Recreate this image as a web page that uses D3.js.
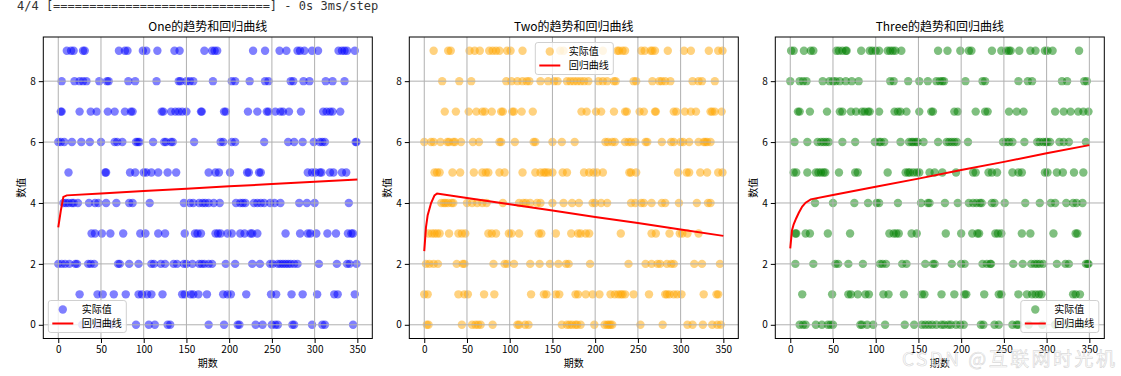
<!DOCTYPE html>
<html lang="zh">
<head>
<meta charset="utf-8">
<title>趋势和回归曲线</title>
<style>
  body { margin: 0; background: #fff; }
  svg text { font-family: "Noto Sans CJK SC", "DejaVu Sans", sans-serif; }
  .grid line { stroke: #b0b0b0; stroke-width: 1; }
  .tick text { font-size: 10px; fill: #000; }
</style>
</head>
<body>
<div id="chart"></div>
<script src="https://cdn.jsdelivr.net/npm/d3@7/dist/d3.min.js"></script>
<script>
// periods for each value 0..9 (index = value)
var oneRows = [
  [28,45,62,91,106,113,128,131,176,194,210,212,231,239,250,254,257,274,276,297,309,312,345],
  [25,46,52,65,79,94,98,104,109,122,145,148,155,158,164,174,193,198,202,220,249,255,273,286,303,323,327,347],
  [0,4,8,13,20,22,35,38,42,70,72,83,94,109,112,120,125,135,139,147,150,157,165,168,171,176,180,196,207,227,236,248,251,257,260,263,266,269,272,276,280,305,326,338,341,349],
  [39,43,51,61,76,96,102,117,125,148,160,163,167,184,187,190,198,203,213,218,225,227,233,266,283,292,295,302,315,325,339,343,345],
  [6,9,12,16,18,23,36,43,47,56,68,83,87,107,147,154,158,165,169,172,176,182,189,208,213,216,219,229,233,237,241,248,253,260,282,291,300,340],
  [12,55,56,84,90,100,103,109,117,128,138,176,184,188,201,221,223,235,237,292,297,301,306,308,318,322,332,337],
  [0,3,7,16,27,37,50,66,69,75,91,93,95,111,124,126,132,134,159,190,193,203,207,241,269,276,286,299,306,309,312,348,349],
  [3,4,25,38,45,58,66,78,85,87,121,123,132,137,141,145,150,167,168,194,196,222,233,244,246,254,260,263,270,284,310,314,318,321,330],
  [4,19,25,29,33,48,57,59,82,90,115,141,143,150,154,158,181,203,207,224,242,246,272,275,287,294,313,321,335],
  [10,15,18,29,31,71,78,81,99,103,116,136,142,171,180,183,186,228,242,259,267,280,283,288,297,304,328,332,335,338,347]
];
var twoRows = [
  [3,5,44,56,60,63,66,80,109,111,118,122,161,167,170,173,177,179,183,199,211,214,216,218,220,253,279,308,314,326,337,343,347],
  [0,4,40,47,51,70,82,125,140,143,154,158,177,180,189,197,205,218,223,227,230,232,235,245,263,282,284,287,292,296,301,327,342,344],
  [2,6,11,16,38,45,47,81,94,97,105,124,135,147,157,166,169,194,239,259,266,273,276,284,289,292,316,325,346],
  [5,9,12,15,18,29,40,44,48,75,79,84,99,102,111,134,137,154,172,180,183,189,193,230,266,271,287,299,302,308,321],
  [20,23,25,28,32,34,50,56,62,68,73,92,111,116,119,124,132,136,150,163,173,181,197,200,207,214,242,247,254,257,266,278,282,298,319,332,335],
  [12,15,18,33,42,58,68,72,75,88,94,115,130,136,140,142,145,150,162,167,187,193,198,202,209,240,242,248,297,307,310,323,331,344,349],
  [0,8,11,19,27,29,34,36,43,57,64,88,90,106,128,130,150,161,176,212,215,220,223,235,239,242,247,259,261,278,289,292,300,303,310,321,327,329,331,335],
  [24,37,52,61,68,71,79,90,92,103,105,114,127,184,190,201,207,222,235,237,252,257,270,271,292,295,305,312,318,335,337,340,348],
  [21,41,55,96,102,109,115,120,123,136,145,152,156,167,171,175,179,183,187,192,204,209,214,222,224,245,248,267,275,278,282,288,314,321,325,340],
  [11,28,31,53,59,65,76,80,84,88,97,101,115,159,163,209,226,228,232,235,254,258,265,267,270,285,304,312,333,344,349]
];
var threeRows = [
  [11,15,18,30,37,44,47,50,82,84,90,97,111,134,145,154,158,162,166,171,177,180,185,188,194,199,203,223,226,239,244,260,265,267,279,295,310,325,340],
  [14,49,68,71,79,88,92,109,115,133,154,157,177,192,204,206,227,244,247,267,277,283,287,291,294,331,334,339],
  [6,27,53,56,68,85,105,108,112,131,136,158,167,169,189,200,204,225,230,234,235,261,272,282,286,289,292,296,312,322,326,346,348,349],
  [6,7,18,23,44,70,116,121,124,127,142,148,182,200,213,219,221,240,243,247,271,281,308,334,336],
  [29,50,75,91,101,104,126,153,161,163,181,196,209,214,218,222,224,236,239,251,275,292,305,310,323,331,335,342],
  [4,7,20,30,33,36,39,41,57,76,79,114,135,138,140,144,148,151,163,169,178,194,214,217,232,236,242,260,267,271,298,301,312,319,332,343],
  [5,20,32,36,39,42,45,61,76,99,104,106,110,129,139,142,144,147,149,156,173,183,186,189,192,195,208,249,253,256,260,274,289,292,296,299,301,304,315,320,326,346],
  [9,11,23,43,58,61,71,77,84,87,91,93,104,122,126,129,136,151,165,167,192,196,217,228,231,256,265,273,310,320,328,337,343,349],
  [0,11,15,19,38,46,50,53,58,65,72,80,117,121,138,151,161,171,175,178,180,205,225,228,267,278,283,318,324,344,347],
  [1,4,16,24,27,54,57,61,65,66,83,93,96,100,104,114,117,120,123,130,173,184,199,209,212,236,247,253,256,258,268,281,287,298,301,307,338]
];

// regression curves
var oneRegX = [0,3,6,10,50,100,150,200,250,300,350];
var oneRegY = [3.2,3.75,4.2,4.25,4.31,4.39,4.47,4.55,4.62,4.7,4.77];
var twoRegX = [0,2,4,8,12,15,50,100,150,200,250,300,350];
var twoRegY = [2.42,3.2,3.6,4.0,4.25,4.31,4.16,3.96,3.75,3.54,3.34,3.13,2.92];
var threeRegX = [0,2,4,7,10,14,18,24,50,100,150,200,250,300,350];
var threeRegY = [2.51,3.1,3.3,3.5,3.68,3.88,4.01,4.12,4.26,4.53,4.8,5.08,5.35,5.63,5.9];

var names = ["One", "Two", "Three"];
var colors = ["#0000ff", "#ffa500", "#008000"];
var legendPos = ["lower left", "upper center", "lower right"];
var xTicks = [0,50,100,150,200,250,300,350];
var yTicks = [0,2,4,6,8];

var width = 1121, height = 376;
var svg = d3.select("#chart").append("svg")
    .attr("width", width).attr("height", height);

// console output line above the figure
svg.append("text")
    .attr("x", 17).attr("y", 9.5)
    .style("font-family", "'DejaVu Sans Mono', monospace")
    .style("font-size", "12px")
    .attr("fill", "#333")
    .text("4/4 [==============================] - 0s 3ms/step");

var panels = [
  {rows: oneRows, rx: oneRegX, ry: oneRegY},
  {rows: twoRows, rx: twoRegX, ry: twoRegY},
  {rows: threeRows, rx: threeRegX, ry: threeRegY}
];

var axW = 329, axTop = 37, axBottom = 338.5;

panels.forEach(function(p, i) {
  var left = 43.3 + i * 366;
  var x = d3.scaleLinear().domain([-17.5, 367.5]).range([left, left + axW]);
  var y = d3.scaleLinear().domain([-0.45, 9.45]).range([axBottom, axTop]);
  var g = svg.append("g");

  var pts = [];
  p.rows.forEach(function(r, v) { r.forEach(function(t) { pts.push({t: t, v: v}); }); });

  g.append("g").selectAll("circle")
    .data(pts).enter().append("circle")
      .attr("cx", function(d) { return x(d.t); })
      .attr("cy", function(d) { return y(d.v); })
      .attr("r", 4.2)
      .attr("fill", colors[i])
      .attr("fill-opacity", 0.5);

  // grid above the points, like matplotlib
  var grid = g.append("g").attr("class", "grid");
  grid.selectAll(".gx").data(xTicks).enter().append("line")
      .attr("x1", function(d) { return x(d); }).attr("x2", function(d) { return x(d); })
      .attr("y1", axTop).attr("y2", axBottom);
  grid.selectAll(".gy").data(yTicks).enter().append("line")
      .attr("y1", function(d) { return y(d); }).attr("y2", function(d) { return y(d); })
      .attr("x1", left).attr("x2", left + axW);

  var line = d3.line().x(function(d) { return x(d[0]); }).y(function(d) { return y(d[1]); });
  g.append("path")
      .datum(d3.zip(p.rx, p.ry))
      .attr("d", line)
      .attr("fill", "none")
      .attr("stroke", "#ff0000")
      .attr("stroke-width", 2);

  g.append("g").attr("transform", "translate(0," + axBottom + ")")
      .call(d3.axisBottom(x).tickValues(xTicks).tickSize(4.5).tickPadding(3))
      .call(function(a) { a.select(".domain").remove(); });
  g.append("g").attr("transform", "translate(" + left + ",0)")
      .call(d3.axisLeft(y).tickValues(yTicks).tickSize(4.5).tickPadding(3))
      .call(function(a) { a.select(".domain").remove(); });

  g.append("rect")
      .attr("x", left).attr("y", axTop)
      .attr("width", axW).attr("height", axBottom - axTop)
      .attr("fill", "none").attr("stroke", "#000").attr("stroke-width", 1);

  g.append("text")
      .attr("x", left + axW / 2).attr("y", 31)
      .attr("text-anchor", "middle")
      .style("font-size", "12px")
      .text(names[i] + "的趋势和回归曲线");
  g.append("text")
      .attr("x", left + axW / 2).attr("y", 367)
      .attr("text-anchor", "middle")
      .style("font-size", "10px")
      .text("期数");
  g.append("text")
      .attr("transform", "translate(" + (left - 18) + "," + ((axTop + axBottom) / 2) + ") rotate(-90)")
      .attr("text-anchor", "middle")
      .style("font-size", "10px")
      .text("数值");

  // legend
  var lw = 78, lh = 32, lx, ly;
  if (legendPos[i] == "lower left") { lx = left + 5; ly = axBottom - 38; }
  else if (legendPos[i] == "upper center") { lx = left + axW / 2 - lw / 2 + 0.5; ly = axTop + 5.5; }
  else { lx = left + axW - lw - 5.5; ly = axBottom - 38; }
  var lg = g.append("g").attr("transform", "translate(" + lx + "," + ly + ")");
  lg.append("rect").attr("width", lw).attr("height", lh).attr("rx", 2.5)
      .attr("fill", "#fff").attr("fill-opacity", 0.8)
      .attr("stroke", "#d0d0d0").attr("stroke-width", 1);
  lg.append("circle").attr("cx", 14.5).attr("cy", 9).attr("r", 4.2)
      .attr("fill", colors[i]).attr("fill-opacity", 0.5);
  lg.append("line").attr("x1", 4).attr("x2", 25).attr("y1", 23).attr("y2", 23)
      .attr("stroke", "#ff0000").attr("stroke-width", 2);
  lg.append("text").attr("x", 33.5).attr("y", 12.5).style("font-size", "10px").text("实际值");
  lg.append("text").attr("x", 33.5).attr("y", 26.5).style("font-size", "10px").text("回归曲线");
});

// watermark
svg.append("text")
    .attr("x", 902).attr("y", 366)
    .attr("textLength", 213)
    .style("font-size", "19px")
    .attr("fill", "#ffffff").attr("fill-opacity", 0.75)
    .attr("stroke", "#aaa").attr("stroke-opacity", 0.45).attr("stroke-width", 0.7)
    .text("CSDN @互联网时光机");
</script>
</body>
</html>
